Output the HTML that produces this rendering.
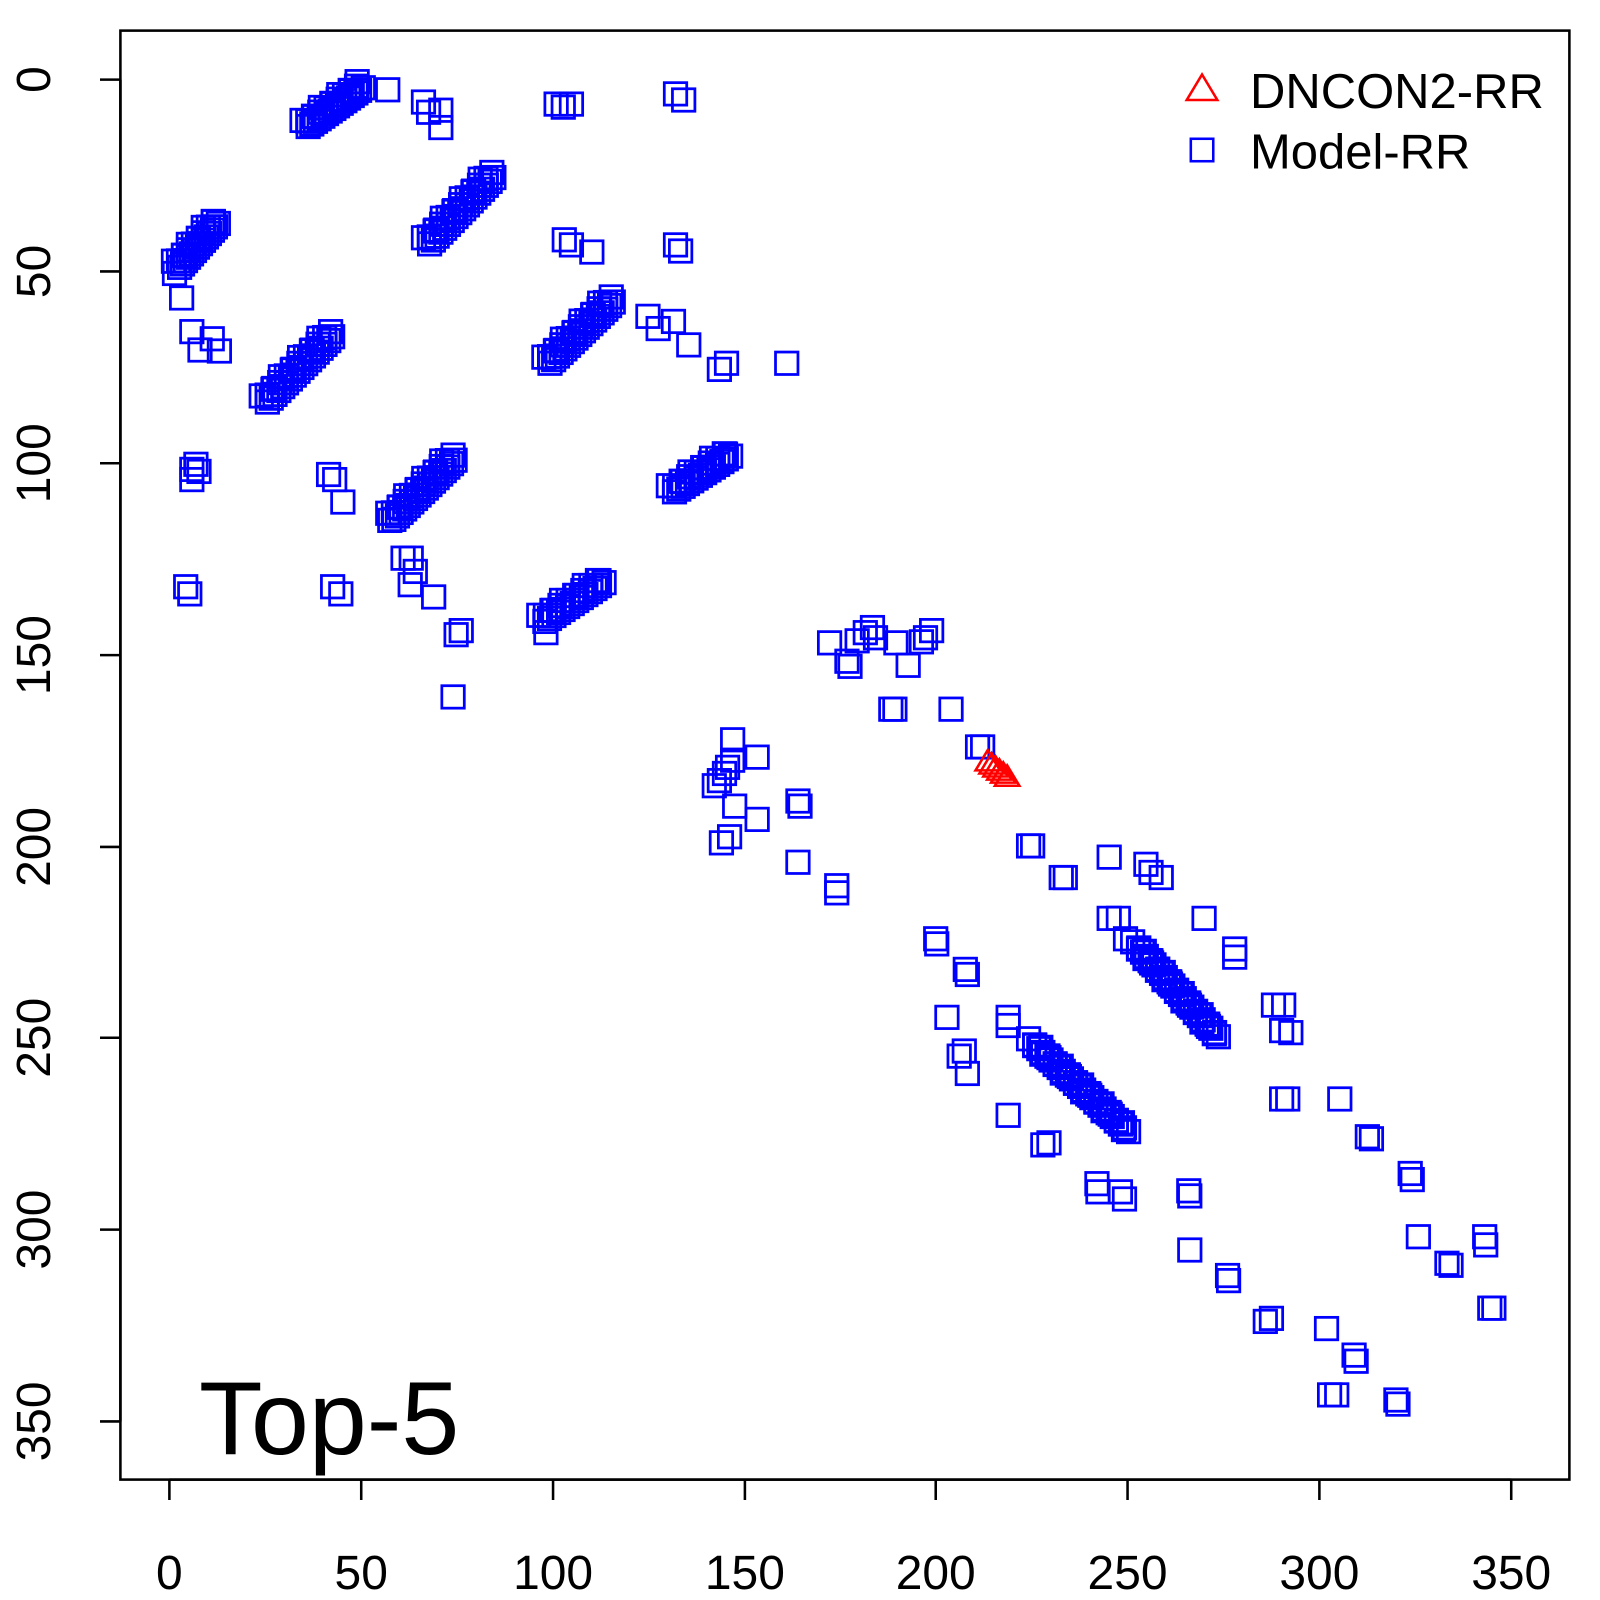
<!DOCTYPE html>
<html><head><meta charset="utf-8"><style>
html,body{margin:0;padding:0;background:#fff;}
svg{display:block;}
text{font-family:"Liberation Sans",sans-serif;fill:#000;}
</style></head><body>
<svg id="s" width="1600" height="1600" viewBox="0 0 1568 1568" xmlns="http://www.w3.org/2000/svg">
<rect x="118" y="30" width="1420" height="1420" fill="none" stroke="#000" stroke-width="2.5"/>
<g stroke="#000" stroke-width="2.5">
<line x1="166" y1="1450" x2="1481" y2="1450"/>
<line x1="166" y1="1450" x2="166" y2="1470"/><line x1="354" y1="1450" x2="354" y2="1470"/><line x1="542" y1="1450" x2="542" y2="1470"/><line x1="730" y1="1450" x2="730" y2="1470"/><line x1="917" y1="1450" x2="917" y2="1470"/><line x1="1105" y1="1450" x2="1105" y2="1470"/><line x1="1293" y1="1450" x2="1293" y2="1470"/><line x1="1481" y1="1450" x2="1481" y2="1470"/>
<line x1="118" y1="78" x2="118" y2="1393"/>
<line x1="98" y1="78" x2="118" y2="78"/><line x1="98" y1="266" x2="118" y2="266"/><line x1="98" y1="454" x2="118" y2="454"/><line x1="98" y1="642" x2="118" y2="642"/><line x1="98" y1="830" x2="118" y2="830"/><line x1="98" y1="1017" x2="118" y2="1017"/><line x1="98" y1="1205" x2="118" y2="1205"/><line x1="98" y1="1393" x2="118" y2="1393"/>
</g>
<g font-size="47" text-anchor="middle">
<text x="166" y="1557">0</text><text x="354" y="1557">50</text><text x="542" y="1557">100</text><text x="730" y="1557">150</text><text x="917" y="1557">200</text><text x="1105" y="1557">250</text><text x="1293" y="1557">300</text><text x="1481" y="1557">350</text>
<text transform="translate(49,78) rotate(-90)">0</text>
<text transform="translate(49,266) rotate(-90)">50</text>
<text transform="translate(49,454) rotate(-90)">100</text>
<text transform="translate(49,642) rotate(-90)">150</text>
<text transform="translate(49,830) rotate(-90)">200</text>
<text transform="translate(49,1017) rotate(-90)">250</text>
<text transform="translate(49,1205) rotate(-90)">300</text>
<text transform="translate(49,1393) rotate(-90)">350</text>
</g>
<text x="195" y="1425" font-size="102">Top-5</text>
<polygon points="1178,73 1193,98 1163,98" fill="none" stroke="#f00" stroke-width="2.5"/>
<rect x="1167" y="136" width="22" height="22" fill="none" stroke="#00f" stroke-width="2.5"/>
<text x="1225" y="106" font-size="48">DNCON2-RR</text>
<text x="1225" y="165" font-size="48">Model-RR</text>
<g id="pts" fill="none" stroke="#00f" stroke-width="2.7"></g>
<g id="tri" fill="none" stroke="#f00" stroke-width="2.5"></g>
</svg>
<script>
var g=document.getElementById('pts'),h='';
function sq(x,y){h+='<rect x="'+(x-11).toFixed(1)+'" y="'+(y-11).toFixed(1)+'" width="22" height="22"/>';}
function band(x1,y1,x2,y2,n){for(var i=0;i<n;i++){var t=i/(n-1);var x=x1+(x2-x1)*t,y=y1+(y2-y1)*t;sq(x+((i*7)%5-2),y+((i*3)%5-2));sq(x+4,y+4);}}
band(298,120,352,82,16);
band(417,235,480,170,18);
band(172,258,210,215,14);
band(258,390,322,326,18);
band(535,352,597,292,18);
band(382,505,442,447,18);
band(657,478,712,443,14);
band(530,605,588,567,14);
band(1112,925,1190,1012,22);
band(1010,1020,1102,1105,24);
var P=[[380,88],[415,100],[420,110],[432,108],[432,125],[545,102],[552,105],[560,102],[662,92],[670,98],[171,268],[178,292],[188,325],[196,343],[208,332],[215,344],
[553,235],[560,240],[580,247],[662,240],[667,246],[635,310],[645,322],[660,315],[675,338],[705,362],[712,356],[771,356],
[188,460],[192,455],[188,470],[195,462],[322,465],[328,470],[336,492],[182,575],[186,582],[326,575],[334,582],[382,510],
[395,547],[403,547],[407,560],[402,573],[425,585],[447,622],[452,618],[444,683],[535,620],
[813,630],[830,648],[833,653],[840,628],[848,620],[855,615],[858,625],[878,630],[890,652],[907,625],[913,618],[903,629],
[873,695],[877,695],[932,695],[958,732],[963,732],
[700,770],[705,765],[710,758],[713,752],[718,745],[718,725],[720,790],[742,742],[742,803],[715,820],[707,826],
[782,785],[784,790],[782,845],[820,868],[820,875],
[1008,829],[1012,829],[1040,860],[1044,860],[1087,840],[1123,847],[1128,855],[1138,860],
[917,920],[918,925],[946,950],[948,955],[1087,900],[1096,900],[1103,920],[1180,900],
[1210,930],[1210,938],[1248,985],[1258,985],[1256,1010],[1265,1012],
[928,997],[988,997],[988,1005],[940,1035],[945,1030],[948,1052],[988,1093],
[1022,1122],[1028,1120],[1075,1160],[1076,1168],[1098,1168],[1102,1175],
[1165,1167],[1166,1172],[1166,1225],[1256,1077],[1262,1077],[1313,1077],
[1340,1114],[1344,1116],[1382,1150],[1384,1156],[1390,1212],[1418,1238],[1422,1240],
[1455,1212],[1456,1220],[1460,1282],[1464,1282],
[1203,1250],[1204,1255],[1240,1295],[1246,1292],[1300,1302],[1303,1367],[1310,1367],[1327,1328],[1329,1334],
[1368,1372],[1370,1376]];
P.forEach(function(p){sq(p[0],p[1]);});
g.innerHTML=h;
var t='';for(var i=0;i<6;i++){var x=968+i*3.8,y=745+i*3;t+='<polygon points="'+x+','+(y-10)+' '+(x+12)+','+(y+10)+' '+(x-12)+','+(y+10)+'"/>';}
document.getElementById('tri').innerHTML=t;
</script>
</body></html>
